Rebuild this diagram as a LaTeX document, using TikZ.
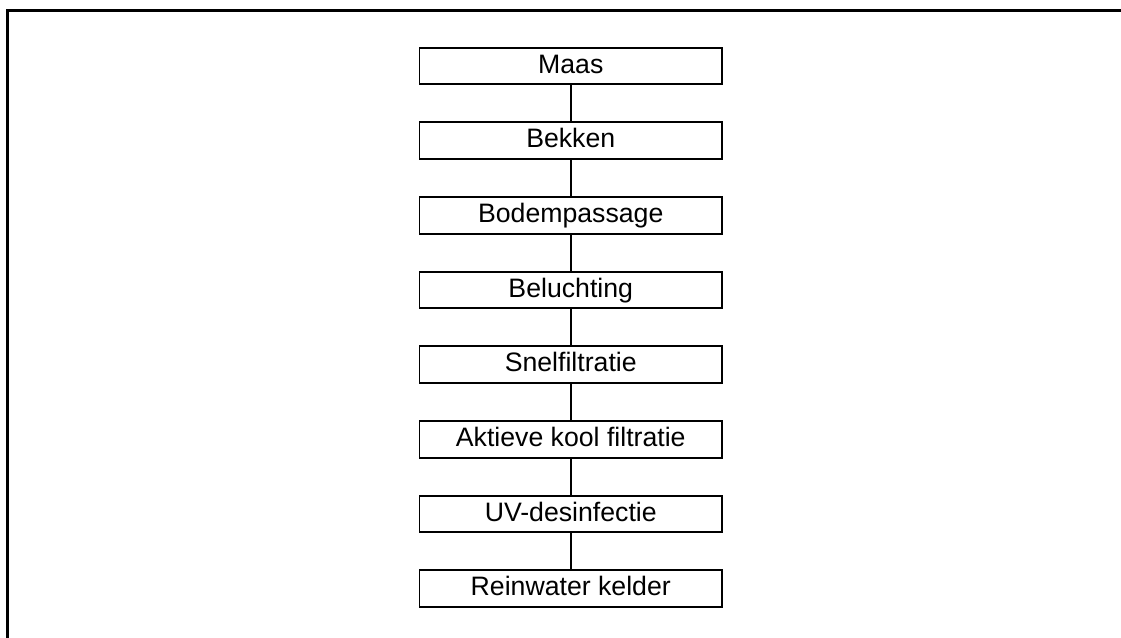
\documentclass[tikz,border=0pt]{standalone}
\usepackage{fontspec}
\setmainfont{Liberation Sans}
\begin{document}
\begin{tikzpicture}[x=0.75pt, y=-0.75pt,
    stap/.style={draw, line width=1.4pt, minimum width=226.9pt, minimum height=27.4pt,
        inner sep=0pt, font=\fontsize{20}{23}\selectfont, text height=14.5pt, text depth=3.7pt},
    lijn/.style={line width=1.3pt}]
    \useasboundingbox (0, 0) rectangle (1121, 637);
    % kader
    \draw[line width=2pt] (7.8, 660) -- (7.8, 10.3) -- (1140, 10.3);

    % zuiveringsstappen
    \node[stap] (maas) at (570.75, 66) {Maas};
    \node[stap] (bekken) at (570.75, 140.67) {Bekken};
    \node[stap] (bodem) at (570.75, 215.33) {Bodempassage};
    \node[stap] (belucht) at (570.75, 290) {Beluchting};
    \node[stap] (snel) at (570.75, 364.67) {Snelfiltratie};
    \node[stap] (kool) at (570.75, 439.33) {Aktieve kool filtratie};
    \node[stap] (uv) at (570.75, 514) {UV-desinfectie};
    \node[stap] (kelder) at (570.75, 588.67) {Reinwater kelder};

    % verbindingen
    \draw[lijn] (maas) -- (bekken);
    \draw[lijn] (bekken) -- (bodem);
    \draw[lijn] (bodem) -- (belucht);
    \draw[lijn] (belucht) -- (snel);
    \draw[lijn] (snel) -- (kool);
    \draw[lijn] (kool) -- (uv);
    \draw[lijn] (uv) -- (kelder);
\end{tikzpicture}
\end{document}
